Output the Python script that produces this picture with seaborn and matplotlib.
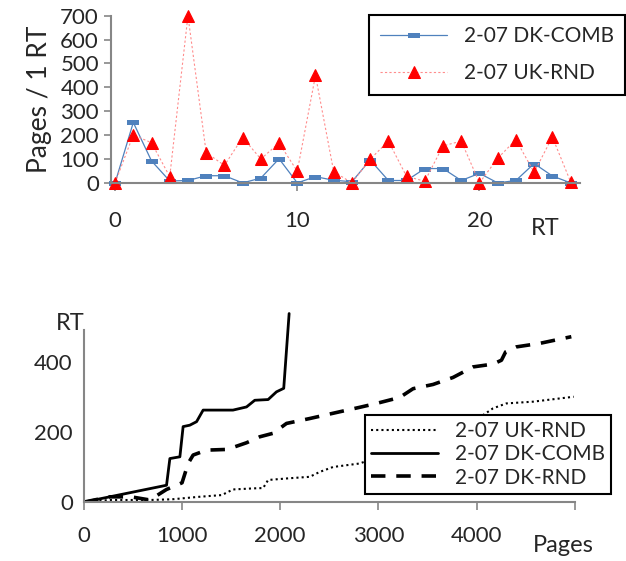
import numpy as np
import pandas as pd
import matplotlib
matplotlib.use("Agg")
import matplotlib.pyplot as plt
import seaborn as sns

# top chart: pages per RT
rt = list(range(26))
dk_comb_rate = [0, 253, 92, 8, 10, 30, 30, 0, 20, 101, 0, 26, 11, 5, 96, 10,
                10, 60, 60, 10, 40, 0, 10, 81, 29, 0]
uk_rnd_rate = [0, 201, 168, 26, 700, 127, 73, 190, 100, 167, 49, 450, 47, 0, 99,
               175, 27, 7, 155, 175, 0, 103, 181, 44, 192, 5]

# bottom chart: cumulative RT vs pages
uk_pages = [0, 265, 672, 900, 1171, 1405, 1519, 1724, 1826, 1877, 2098, 2301, 2403,
            2539, 2811, 3200, 3600, 4000, 4168, 4304, 4576, 4990]
uk_rt = [0, 6, 6, 8, 15, 20, 36, 39, 40, 63, 68, 72, 86, 100, 110, 150, 190, 235,
         267, 281, 286, 300]
dkc_pages = [0, 842, 876, 978, 1011, 1079, 1148, 1215, 1519, 1657, 1741, 1877, 1962,
             2036, 2091]
dkc_rt = [0, 48, 124, 129, 215, 219, 229, 262, 262, 271, 290, 292, 314, 324, 537]
dkr_pages = [0, 265, 480, 672, 842, 944, 1000, 1062, 1113, 1249, 1460, 1657, 1792,
             1928, 2064, 2301, 2539, 2811, 2981, 3218, 3354, 3557, 3761, 3965, 4168,
             4254, 4297, 4406, 4644, 4966]
dkr_rt = [0, 15, 15, 6, 36, 48, 55, 110, 134, 148, 150, 169, 186, 196, 224, 238, 253,
          270, 281, 298, 323, 335, 355, 385, 393, 404, 428, 442, 452, 471]

sns.set_style("white")
plt.rcParams['font.family'] = ['Lato', 'DejaVu Sans']

W, H = 626, 561
fig = plt.figure(figsize=(W / 100, H / 100), dpi=100)
grey = "#868686"


def px_text(x, y, s, **kw):
    # place text by pixel position (origin top-left)
    fig.text(x / W, 1 - y / H, s, ha="center", va="center", **kw)


# ---- top
ax1 = fig.add_axes([0.178, 0.674, 0.748, 0.298])
top = pd.DataFrame({"RT": rt, "dk": dk_comb_rate, "uk": uk_rnd_rate})
rect = [(-2, -0.8), (2, -0.8), (2, 0.8), (-2, 0.8)]
sns.lineplot(data=top, x="RT", y="dk", ax=ax1, color="#4f81bd", lw=0.9,
             marker=rect, markersize=9, markeredgewidth=0, label="2-07 DK-COMB", clip_on=False)
sns.lineplot(data=top, x="RT", y="uk", ax=ax1, color="#ff8c8c", lw=0.8, ls=(0, (2, 2)),
             marker="^", markersize=9, markerfacecolor="red", markeredgecolor="red",
             label="2-07 UK-RND", clip_on=False)
ax1.set_xlim(-0.2, 25.5)
ax1.set_ylim(0, 700)
ax1.set_yticks(range(0, 701, 100))
ax1.set_xticks([0, 10, 20])
for s in ["top", "right"]:
    ax1.spines[s].set_visible(False)
for s in ["left", "bottom"]:
    ax1.spines[s].set_color(grey)
    ax1.spines[s].set_linewidth(1.5)
ax1.tick_params(axis="y", length=5, width=1.2, color=grey, labelsize=16, pad=4, left=True)
ax1.tick_params(axis="x", length=6, width=1.2, color=grey, labelsize=16, pad=14, bottom=True)
ax1.set_xlabel("")
ax1.set_ylabel("Pages / 1 RT", fontsize=19, labelpad=6)
px_text(545, 228, "RT", fontsize=17)
leg1 = ax1.legend(loc="upper left", bbox_to_anchor=(369 / W, 1 - 15 / H),
                  bbox_transform=fig.transFigure, fontsize=15, frameon=True, fancybox=False,
                  edgecolor="black", handlelength=3.2, labelspacing=0.8, borderpad=0.55,
                  borderaxespad=0)
leg1.get_frame().set_linewidth(1.5)
leg1.get_frame().set_alpha(1)

# ---- bottom
ax2 = fig.add_axes([0.134, 0.105, 0.784, 0.338])
sns.lineplot(x=uk_pages, y=uk_rt, ax=ax2, color="black", lw=1.5, ls=(0, (1, 1.5)),
             label="2-07 UK-RND", zorder=1)
sns.lineplot(x=dkc_pages, y=dkc_rt, ax=ax2, color="black", lw=2, label="2-07 DK-COMB", zorder=1)
sns.lineplot(x=dkr_pages, y=dkr_rt, ax=ax2, color="black", lw=2.6, ls=(0, (4, 3)),
             label="2-07 DK-RND", zorder=1)
ax2.set_xlim(0, 5000)
ax2.set_ylim(0, 540)
ax2.set_yticks([0, 200, 400])
ax2.set_xticks(range(0, 5001, 1000))
ax2.set_xticklabels(["0", "1000", "2000", "3000", "4000", ""])
for s in ["top", "right"]:
    ax2.spines[s].set_visible(False)
for s in ["left", "bottom"]:
    ax2.spines[s].set_color(grey)
    ax2.spines[s].set_linewidth(1.5)
ax2.spines["left"].set_bounds(0, 490)
ax2.tick_params(axis="y", length=0, labelsize=16, pad=8)
ax2.tick_params(axis="x", length=6, width=1.2, color=grey, labelsize=16, pad=11, bottom=True)
px_text(70, 323, "RT", fontsize=17)
px_text(563, 545, "Pages", fontsize=17)
leg2 = ax2.legend(loc="upper left", bbox_to_anchor=(365 / W, 1 - 415 / H),
                  bbox_transform=fig.transFigure, fontsize=15, frameon=True, fancybox=False,
                  edgecolor="black", handlelength=3.2, labelspacing=0.15, borderpad=0.3,
                  borderaxespad=0)
leg2.get_frame().set_linewidth(1.5)
leg2.get_frame().set_alpha(1)
leg2.set_zorder(5)

fig.savefig("out.png", dpi=100)
